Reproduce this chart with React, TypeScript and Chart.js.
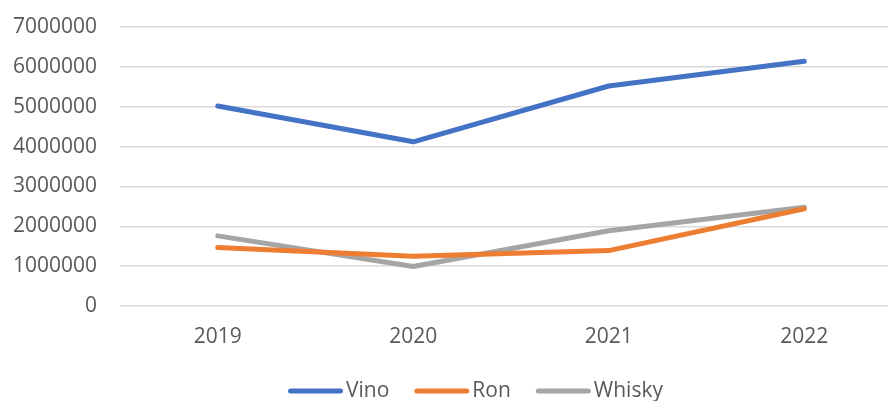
import React, { useEffect, useRef } from "react";
import { Chart, registerables } from "chart.js";

Chart.register(...registerables);

const years = ["2019", "2020", "2021", "2022"];
const vino = [5020000, 4120000, 5520000, 6140000];
const ron = [1470000, 1250000, 1390000, 2440000];
const whisky = [1760000, 990000, 1890000, 2480000];
const seriesNames = ["Vino", "Ron", "Whisky"];
const seriesColors = ["#4472C4", "#ED7D31", "#A5A5A5"];
const yTicksMax = 7000000;
const yStep = 1000000;

const FONT = "'Open Sans', sans-serif";
const TEXT_COLOR = "#595959";

// Legend along the bottom: rounded line sample followed by the series name
const bottomLegend = {
  id: "bottomLegend",
  afterDraw(chart: Chart) {
    const ctx = chart.ctx;
    const y = 391;
    const sample = 55;
    const gap = 3;
    const itemGap = 25;
    let x = 288;
    ctx.save();
    ctx.font = `21px ${FONT}`;
    ctx.textBaseline = "middle";
    ctx.textAlign = "left";
    chart.data.datasets.forEach((ds: any) => {
      ctx.strokeStyle = ds.borderColor;
      ctx.lineWidth = 5;
      ctx.lineCap = "round";
      ctx.beginPath();
      ctx.moveTo(x + 2.5, y);
      ctx.lineTo(x + sample - 2.5, y);
      ctx.stroke();
      x += sample + gap;
      ctx.fillStyle = TEXT_COLOR;
      ctx.fillText(ds.label, x, y);
      x += ctx.measureText(ds.label).width + itemGap;
    });
    ctx.restore();
  },
};

export default function App() {
  const canvasRef = useRef<HTMLCanvasElement | null>(null);

  useEffect(() => {
    if (!canvasRef.current) return;
    const values = [vino, ron, whisky];
    const chart = new Chart(canvasRef.current, {
      type: "line",
      data: {
        labels: years,
        datasets: values.map((v, i) => ({
          label: seriesNames[i],
          data: v,
          borderColor: seriesColors[i],
          backgroundColor: seriesColors[i],
          borderWidth: 5,
          borderCapStyle: "round",
          borderJoinStyle: "round",
          pointRadius: 0,
          pointHoverRadius: 0,
          tension: 0,
        })),
      },
      options: {
        responsive: false,
        animation: false,
        devicePixelRatio: 1,
        layout: { padding: { top: 27, right: 8, left: 0, bottom: 0 } },
        plugins: {
          legend: { display: false },
          tooltip: { enabled: false },
        },
        scales: {
          x: {
            offset: true,
            grid: { display: false, drawTicks: false },
            border: { display: false },
            ticks: {
              color: TEXT_COLOR,
              font: { family: FONT, size: 21 },
              padding: 18,
              maxRotation: 0,
            },
            afterFit(scale: any) {
              scale.height = 95;
            },
          },
          y: {
            min: 0,
            max: yTicksMax,
            grid: { color: "#D9D9D9", lineWidth: 1.5, drawTicks: false },
            border: { display: false },
            ticks: {
              stepSize: yStep,
              color: TEXT_COLOR,
              font: { family: FONT, size: 21 },
              padding: 23,
              callback: (v: any) => String(v),
            },
            afterFit(scale: any) {
              scale.width = 120;
              scale.paddingTop = 0;
              scale.paddingBottom = 0;
            },
          },
        },
      },
      plugins: [bottomLegend],
    });
    return () => chart.destroy();
  }, []);

  return (
    <div
      style={{
        position: "fixed",
        left: 0,
        top: 0,
        width: 888,
        height: 401,
        overflow: "hidden",
        background: "#fff",
      }}
    >
      <canvas ref={canvasRef} width={910} height={401} style={{ display: "block" }} />
    </div>
  );
}
